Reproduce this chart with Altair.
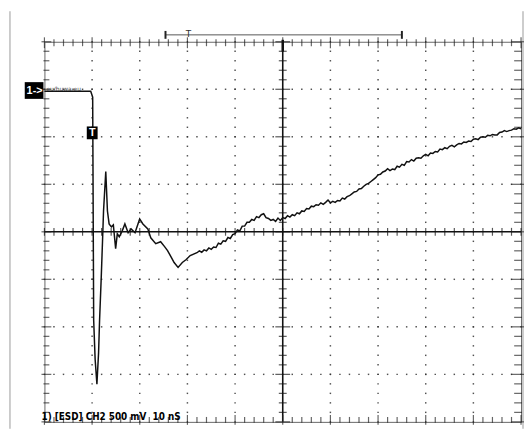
import altair as alt
import numpy as np
import pandas as pd

# Oscilloscope trace: time in ns (10 nS/div), voltage in V (500 mV/div)
t_ns = [-50.0, -40.29, -40.08, -39.88, -39.67, -39.36, -38.99, -38.64, -38.43, -38.08,
        -37.81, -37.60, -37.13, -36.78, -36.43, -35.95, -35.54, -35.06, -34.71, -34.30,
        -33.68, -33.12, -32.44, -31.82, -30.99, -30.02, -29.34, -28.31, -27.69, -26.65,
        -25.62, -24.79, -24.17, -23.35, -22.79, -21.96, -21.07, -20.25, -19.42,
        -18.0, -17.5, -17.0, -16.5, -16.0, -15.5, -15.0, -14.5, -14.0, -13.5, -13.0,
        -12.5, -12.0, -11.5, -11.0, -10.5, -10.0, -9.5, -9.0, -8.5, -8.0, -7.5, -7.0,
        -6.5, -6.0, -5.5, -5.0, -4.5, -4.0, -3.5, -3.0, -2.5, -2.0, -1.5, -1.0, -0.5,
        0.0, 0.5, 1.0, 1.5, 2.0, 2.5, 3.0, 3.5, 4.0, 4.5, 5.0, 5.5, 6.0, 6.5, 7.0, 7.5,
        8.0, 8.5, 9.0, 9.5, 10.0, 10.5, 11.0, 11.5, 12.0, 12.5, 13.0, 13.5, 14.0, 14.5,
        15.0, 15.5, 16.0, 16.5, 17.0, 17.5, 18.0, 18.5, 19.0, 19.5, 20.0, 20.5, 21.0,
        21.5, 22.0, 22.5, 23.0, 23.5, 24.0, 24.5, 25.0, 25.5, 26.0, 26.5, 27.0, 27.5,
        28.0, 28.5, 29.0, 29.5, 30.0, 30.5, 31.0, 31.5, 32.0, 32.5, 33.0, 33.5, 34.0,
        34.5, 35.0, 35.5, 36.0, 36.5, 37.0, 37.5, 38.0, 38.5, 39.0, 39.5, 40.0, 40.5,
        41.0, 41.5, 42.0, 42.5, 43.0, 43.5, 44.0, 44.5, 45.0, 45.5, 46.0, 46.5, 47.0,
        47.5, 48.0, 48.5, 49.0, 49.5, 50.0]
v_V = [1.479, 1.479, 1.448, 1.417, -0.927, -1.344, -1.604, -1.271, -0.927, -0.479,
       -0.094, 0.219, 0.635, 0.219, 0.083, 0.052, 0.073, -0.177, -0.021, -0.052,
       0.010, 0.083, -0.010, 0.031, -0.010, 0.135, 0.083, 0.031, -0.063, -0.125,
       -0.104, -0.156, -0.198, -0.271, -0.323, -0.375, -0.323, -0.292, -0.250,
       -0.22, -0.20, -0.215, -0.19, -0.20, -0.17, -0.185, -0.16, -0.165, -0.12, -0.13,
       -0.095, -0.10, -0.06, -0.07, -0.03, -0.02, 0.02, 0.01, 0.06, 0.06, 0.10, 0.10,
       0.13, 0.12, 0.16, 0.15, 0.18, 0.19, 0.15, 0.14, 0.12, 0.13, 0.11, 0.145, 0.12,
       0.15, 0.14, 0.17, 0.155, 0.18, 0.17, 0.20, 0.19, 0.22, 0.215, 0.245, 0.24, 0.27,
       0.265, 0.285, 0.28, 0.305, 0.29, 0.31, 0.335, 0.305, 0.32, 0.31, 0.33, 0.325,
       0.355, 0.345, 0.37, 0.38, 0.40, 0.42, 0.425, 0.45, 0.455, 0.48, 0.50, 0.51,
       0.53, 0.55, 0.57, 0.60, 0.605, 0.63, 0.64, 0.665, 0.645, 0.66, 0.655, 0.69,
       0.68, 0.71, 0.70, 0.74, 0.735, 0.76, 0.745, 0.775, 0.78, 0.775, 0.80, 0.815,
       0.80, 0.83, 0.825, 0.845, 0.84, 0.87, 0.865, 0.885, 0.875, 0.90, 0.91, 0.895,
       0.915, 0.93, 0.925, 0.945, 0.94, 0.955, 0.95, 0.975, 0.98, 0.97, 0.995, 1.00,
       0.995, 1.015, 1.01, 1.025, 1.02, 1.02, 1.045, 1.05, 1.065, 1.055, 1.065, 1.07,
       1.085, 1.08, 1.095, 1.085]

NB = "\u00a0"
label_text = ["1) [ESD] CH2" + NB + "500 mV" + NB * 2 + "10 nS"]
ch_marker = ["1->"]
trig_marker = ["T"]
watermark_text = ["eu/huwa.eu"]

# screen graticule: 10 x 8 divisions
T_MIN, T_MAX, T_DIV = -50, 50, 10
V_MIN, V_MAX, V_DIV = -2.0, 2.0, 0.5

W, H = 484, 386
xs = alt.Scale(domain=[T_MIN, T_MAX], nice=False, zero=False)
ys = alt.Scale(domain=[V_MIN, V_MAX], nice=False, zero=False)
X = lambda f: alt.X(f, type="quantitative", scale=xs, axis=None)
Y = lambda f: alt.Y(f, type="quantitative", scale=ys, axis=None)

minor_t = np.round(np.arange(T_MIN, T_MAX + 0.01, T_DIV / 5), 3)
minor_v = np.round(np.arange(V_MIN, V_MAX + 0.001, V_DIV / 5), 3)
major_t = [t for t in range(T_MIN + T_DIV, T_MAX, T_DIV) if t != 0]
major_v = [v for v in np.round(np.arange(V_MIN + V_DIV, V_MAX, V_DIV), 3) if v != 0]

dots = pd.DataFrame(
    [{"t": t, "v": v} for t in major_t for v in minor_v]
    + [{"t": t, "v": v} for v in major_v for t in minor_t]
)
grid_dots = alt.Chart(dots).mark_square(size=2.2, color="#333", opacity=0.85).encode(x=X("t"), y=Y("v"))

trace_df = pd.DataFrame({"t": t_ns, "v": v_V})
trace = alt.Chart(trace_df).mark_line(color="#111", strokeWidth=1.5).encode(x=X("t"), y=Y("v"), order="t:Q")

axh = alt.Chart(pd.DataFrame({"v": [0.0]})).mark_rule(color="#111", strokeWidth=1.6).encode(y=Y("v"))
axv = alt.Chart(pd.DataFrame({"t": [0.0]})).mark_rule(color="#111", strokeWidth=1.6).encode(x=X("t"))

tdf = pd.DataFrame({"t": minor_t})
vdf = pd.DataFrame({"v": minor_v})
tdf["major"] = (np.round(tdf["t"]) % T_DIV == 0)
vdf["major"] = np.isclose((vdf["v"] / V_DIV) % 1, 0) | np.isclose((vdf["v"] / V_DIV) % 1, 1)

center_t_ticks = alt.Chart(tdf).mark_tick(orient="vertical", size=8, thickness=1.2, color="#111").encode(
    x=X("t"), y=alt.Y(datum=0, scale=ys, axis=None))
center_v_ticks = alt.Chart(vdf).mark_tick(orient="horizontal", thickness=1.2, color="#111").encode(
    y=Y("v"), x=alt.X(datum=0, scale=xs, axis=None),
    size=alt.condition("datum.major", alt.value(15), alt.value(8)))

top_ticks = alt.Chart(tdf).mark_tick(orient="vertical", thickness=1.2, color="#222", yOffset=1).encode(
    x=X("t"), y=alt.Y(datum=V_MAX, scale=ys, axis=None),
    size=alt.condition("datum.major", alt.value(11), alt.value(7)))
bot_ticks = alt.Chart(tdf).mark_tick(orient="vertical", thickness=1.2, color="#222", yOffset=-2).encode(
    x=X("t"), y=alt.Y(datum=V_MIN, scale=ys, axis=None),
    size=alt.condition("datum.major", alt.value(10), alt.value(6)))
left_ticks = alt.Chart(vdf).mark_tick(orient="horizontal", thickness=1.2, color="#222", xOffset=2).encode(
    y=Y("v"), x=alt.X(datum=T_MIN, scale=xs, axis=None),
    size=alt.condition("datum.major", alt.value(10), alt.value(6)))
right_ticks = alt.Chart(vdf).mark_tick(orient="horizontal", thickness=1.2, color="#222", xOffset=-3).encode(
    y=Y("v"), x=alt.X(datum=T_MAX, scale=xs, axis=None),
    size=alt.condition("datum.major", alt.value(14), alt.value(8)))

# record-position bracket above the graticule
br_t0, br_t1, br_tt = -24.6, 25.0, -19.8
bracket_line = alt.Chart(pd.DataFrame({"a": [br_t0], "b": [br_t1]})).mark_rule(color="#555", strokeWidth=1).encode(
    x=X("a"), x2="b", y=alt.value(-7))
bracket_ends = alt.Chart(pd.DataFrame({"t": [br_t0, br_t1]})).mark_rule(color="#222", strokeWidth=2).encode(
    x=X("t"), y=alt.value(-11), y2=alt.value(-3))
bracket_T = alt.Chart(pd.DataFrame({"t": [br_tt]})).mark_text(
    text="T", font="DejaVu Sans", fontSize=9, color="#333", baseline="middle").encode(x=X("t"), y=alt.value(-8))
center_top = alt.Chart(pd.DataFrame({"t": [0.0]})).mark_rule(color="#111", strokeWidth=2.5).encode(
    x=X("t"), y=alt.value(-2), y2=alt.value(10))

# channel marker and trigger marker
ch_box = alt.Chart(pd.DataFrame({"s": ch_marker})).mark_rect(color="#000").encode(
    x=alt.value(-20), x2=alt.value(-1), y=alt.value(41), y2=alt.value(58))
ch_txt = alt.Chart(pd.DataFrame({"s": ch_marker})).mark_text(
    font="Liberation Sans", fontWeight="bold", fontSize=11, color="white", baseline="middle", align="center").encode(
    x=alt.value(-10), y=alt.value(50), text="s:N")
wm_txt = alt.Chart(pd.DataFrame({"s": watermark_text})).mark_text(
    font="DejaVu Sans", fontSize=6, color="#444", baseline="middle", align="left").encode(
    x=alt.value(2), y=alt.value(48), text="s:N")
tr_box = alt.Chart(pd.DataFrame({"s": trig_marker})).mark_rect(color="#000").encode(
    x=alt.value(43), x2=alt.value(54), y=alt.value(86), y2=alt.value(99))
tr_txt = alt.Chart(pd.DataFrame({"s": trig_marker})).mark_text(
    font="Liberation Sans", fontWeight="bold", fontSize=11, color="white", baseline="middle", align="center").encode(
    x=alt.value(48.5), y=alt.value(93), text="s:N")

label = alt.Chart(pd.DataFrame({"s": label_text})).mark_text(
    font="Liberation Sans Narrow, DejaVu Sans Condensed, Liberation Sans", fontWeight="bold", fontSize=10,
    color="#000", baseline="alphabetic", align="left").encode(
    x=alt.value(-3), y=alt.value(384), text="s:N")

outer = alt.Chart(pd.DataFrame({"p": [-35, 486]})).mark_rule(color="#999", strokeWidth=1).encode(
    x=alt.X("p:Q", scale=None, axis=None), y=alt.value(-31), y2=alt.value(H + 7))

chart = alt.layer(
    outer, grid_dots, axh, axv, center_t_ticks, center_v_ticks,
    top_ticks, bot_ticks, left_ticks, right_ticks,
    bracket_line, bracket_ends, bracket_T, center_top,
    trace, wm_txt, ch_box, ch_txt, tr_box, tr_txt, label,
).properties(
    width=W, height=H,
    padding={"left": 37, "top": 31, "right": 3, "bottom": 7},
    autosize=alt.AutoSizeParams(type="none"),
    background="white",
).configure_view(stroke="#666", strokeWidth=1)

chart.save("out.html", embed_options={"renderer": "svg", "actions": False})
